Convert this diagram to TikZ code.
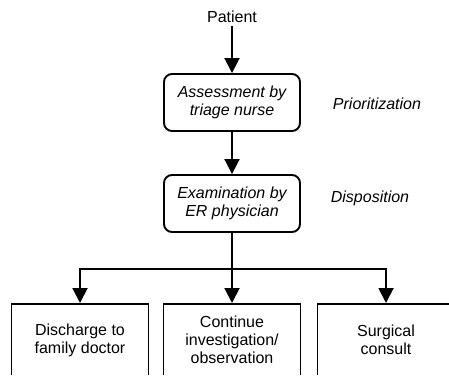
\documentclass[tikz,border=0pt]{standalone}
\usepackage{fontspec}
\setmainfont{Liberation Sans}
\usetikzlibrary{arrows.meta}
\newcommand{\flowfont}{\fontsize{16}{18}\selectfont}
\tikzset{
	stage/.style={draw,line width=1.9pt,rounded corners=8pt,minimum width=136pt,minimum height=57pt,align=center,font=\flowfont\itshape,inner sep=0pt},
	outcome/.style={draw,line width=1.9pt,minimum width=137pt,minimum height=72pt,align=center,anchor=north,inner sep=0pt},
	note/.style={font=\flowfont\itshape},
	arr/.style={line width=1.9pt,-{Triangle[width=15pt,length=15pt]}}
}
\begin{document}
\begin{tikzpicture}[x=1pt,y=-1pt,font=\flowfont]
	\useasboundingbox (0,0) rectangle (449,375);
	\clip (0,0) rectangle (449,374);
	%\draw[step=10,very thin,color=gray] (0,0) grid (449,375);
	\node (patient) at (232,17) {Patient};
	\node[stage] (assess) at (232,102.5) {Assessment by\\triage nurse};
	\node[stage] (exam) at (232,203.5) {Examination by\\ER physician};
	\node[note] (prio) at (377,104) {Prioritization};
	\node[note] (dispo) at (370,198) {Disposition};
	\node[outcome] (discharge) at (80,303) {Discharge to\\family doctor};
	\node[outcome] (cont) at (232,303) {Continue\\investigation/\\observation};
	\node[outcome] (surg) at (386,303) {Surgical\\consult};
	\coordinate (split) at (232,269);
	\draw[arr] (patient) -- (assess);
	\draw[arr] (assess) -- (exam);
	\draw[arr] (exam) -- (cont);
	\draw[arr] (split) -| (discharge);
	\draw[arr] (split) -| (surg);
\end{tikzpicture}
\end{document}
